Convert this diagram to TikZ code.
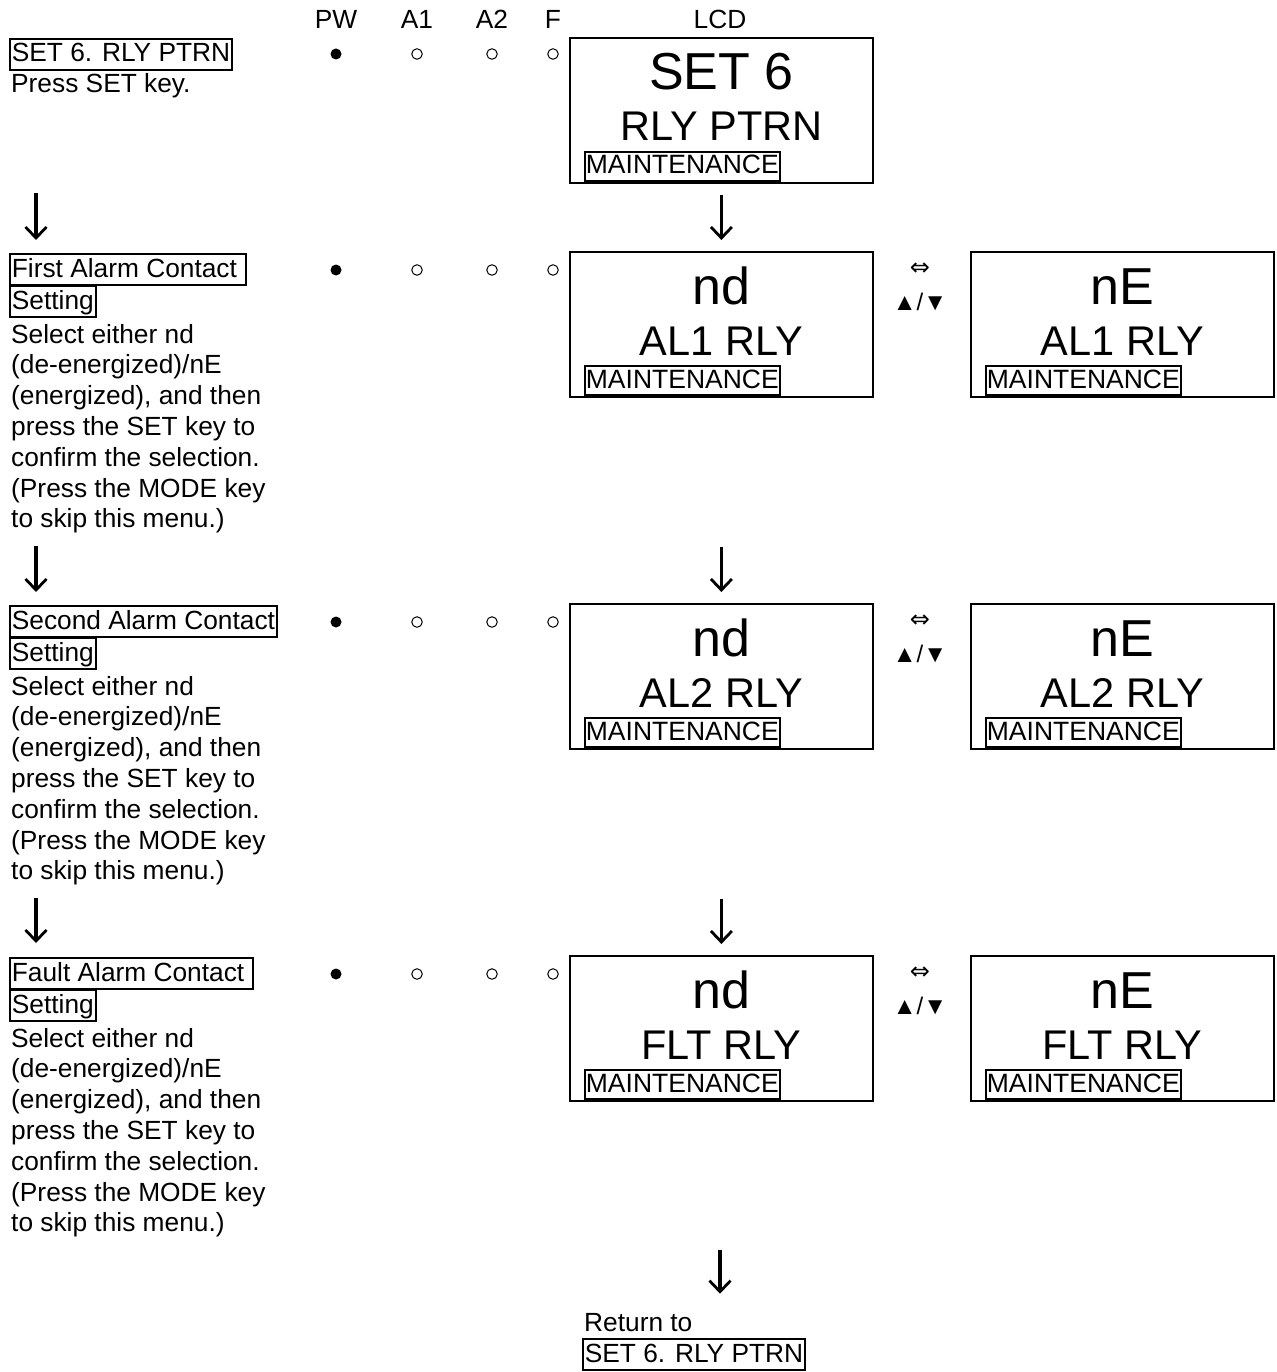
\documentclass[tikz,border=0pt]{standalone}
\usepackage{fontspec}
\setmainfont{Liberation Sans}
\newfontfamily\symfont{DejaVu Sans}
\usetikzlibrary{arrows.meta}
\newcommand\bodyfont{\fontsize{26.3}{30.8}\selectfont}
\begin{document}
\begin{tikzpicture}[x=1pt,y=-1pt,
  body/.style={anchor=base west, inner sep=0, font=\bodyfont},
  hdr/.style={anchor=base, inner sep=0, font=\bodyfont},
  boxed/.style={draw, line width=1.8, inner xsep=2, inner ysep=0, text height=23, text depth=8, anchor=base west, font=\bodyfont},
  lcd/.style={draw, line width=1.8, minimum width=303, minimum height=145, anchor=north west, inner sep=0},
  bigt/.style={anchor=base, inner sep=0, font=\fontsize{52}{52}\selectfont},
  midt/.style={anchor=base, inner sep=0, font=\fontsize{41.5}{41.5}\selectfont},
  maint/.style={draw, line width=1.8, inner xsep=1, inner ysep=0, text height=22, text depth=7, anchor=base west, font=\fontsize{26.5}{26.5}\selectfont},
  fdot/.style={circle, fill=black, minimum size=11, inner sep=0},
  odot/.style={circle, draw, line width=1, minimum size=10.5, inner sep=0},
  arr/.style={line width=3.4, -{Straight Barb[length=11,width=21,line width=2.8]}},
  swp/.style={inner sep=0, font=\symfont\fontsize{24}{24}\selectfont},
  udk/.style={inner sep=0, font=\fontsize{24}{24}\selectfont}
]
\useasboundingbox (0,0) rectangle (1276,1372);

% headers
\node[hdr] (hPW) at (336,29) {PW};
\node[hdr] (hA1) at (417,29) {A1};
\node[hdr] (hA2) at (492,29) {A2};
\node[hdr] (hF) at (553,29) {F};
\node[hdr] (hLCD) at (720,29) {LCD};

% LED rows
\foreach \r/\y in {1/54,2/270,3/622,4/974}{
  \node[fdot] (pw\r) at (336,\y) {};
  \node[odot] (aa\r) at (417,\y) {};
  \node[odot] (ab\r) at (492,\y) {};
  \node[odot] (ff\r) at (553,\y) {};
}

% LCD panels
\newcommand\lcdpanel[5]{%
  \node[lcd] (#1) at (#2,#3) {};
  \node[bigt] (#1a) at ([yshift=-53pt]#1.north) {#4};
  \node[midt] (#1b) at ([yshift=-104pt]#1.north) {#5};
  \node[maint] (#1m) at ([xshift=15pt,yshift=-137pt]#1.north west) {MAINTENANCE};
}
\lcdpanel{L1}{569}{37}{SET 6}{RLY PTRN}
\lcdpanel{L2}{569}{251}{nd}{AL1 RLY}
\lcdpanel{R2}{970}{251}{nE}{AL1 RLY}
\lcdpanel{L3}{569}{603}{nd}{AL2 RLY}
\lcdpanel{R3}{970}{603}{nE}{AL2 RLY}
\lcdpanel{L4}{569}{955}{nd}{FLT RLY}
\lcdpanel{R4}{970}{955}{nE}{FLT RLY}

% swap markers
\foreach \r/\y in {2/251,3/603,4/955}{
  \node[swp] (sw\r) at (920,\y+18) {⇔};
  \node[udk] (ud\r) at (920,\y+51) {▲/▼};
}

% left texts
\node[boxed] (t1) at (9,62) {SET 6. RLY PTRN};
\node[body] (d1) at (11,93) {Press SET key.};

\newcommand\steptext[3]{% name, y of first box baseline, title
  \node[boxed] (#1a) at (9,#2) {#3};
  \node[boxed] (#1b) at (9,#2+32) {Setting};
  \foreach [count=\i from 0] \l in {{Select either nd},{(de-energized)/nE},{(energized), and then},{press the SET key to},{confirm the selection.},{(Press the MODE key},{to skip this menu.)}}{
    \node[body] (#1l\i) at (11,#2+66+30.8*\i) {\l};
  }
}
\steptext{t2}{277}{First Alarm Contact\kern7pt}
\steptext{t3}{629}{Second Alarm Contact}
\steptext{t4}{981}{Fault Alarm Contact\kern7pt}

% arrows left
\coordinate (la1) at (36,193); \coordinate (lb1) at (36,240);
\coordinate (la2) at (36,546); \coordinate (lb2) at (36,592);
\coordinate (la3) at (36,898); \coordinate (lb3) at (36,943);
\draw[arr] (la1) -- (lb1);
\draw[arr] (la2) -- (lb2);
\draw[arr] (la3) -- (lb3);

% arrows center
\draw[arr] ([yshift=-11pt]L1.south) -- ([yshift=11pt]L2.north);
\draw[arr] ([yshift=-149pt]L2.south) -- ([yshift=11pt]L3.north);
\draw[arr] ([yshift=-149pt]L3.south) -- ([yshift=11pt]L4.north);

% return
\node[body] (ret) at (584,1331) {Return to};
\node[boxed] (retb) at (582,1362) {SET 6. RLY PTRN};
\coordinate (e0) at (720,1250);
\draw[arr] (e0) -- ([yshift=19pt]ret.north -| e0);
\end{tikzpicture}
\end{document}
